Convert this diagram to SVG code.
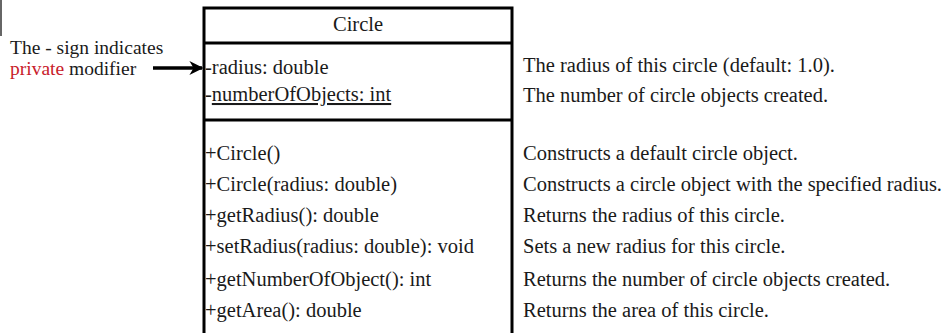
<svg xmlns="http://www.w3.org/2000/svg" width="948" height="333" viewBox="0 0 948 333">
<defs>
<style>
text{font-family:"Liberation Serif","Times New Roman",serif;font-size:20.5px;fill:#1a1a1a}
.note{font-size:19.5px}
.box{fill:#fff;stroke:#000;stroke-width:3}
.div{stroke:#000;stroke-width:3}
.red{fill:#c8202a}
</style>
<marker id="ah" viewBox="0 0 10 10" refX="9" refY="5" markerWidth="4" markerHeight="4" orient="auto" markerUnits="strokeWidth">
<path d="M0,0 L10,5 L0,10 L3,5 Z" fill="#000"/>
</marker>
</defs>
<rect width="948" height="333" fill="#fff"/>
<line x1="1" y1="0" x2="1" y2="36" stroke="#333" stroke-width="1.5"/>
<g id="note">
<text class="note" x="10" y="54">The - sign indicates</text>
<text class="note" x="10" y="75"><tspan class="red">private</tspan> modifier</text>
</g>
<g id="circle-class">
<path class="box" d="M204,340 V8 H512 V340"/>
<line class="div" x1="204" y1="43" x2="512" y2="43"/>
<line class="div" x1="204" y1="120" x2="512" y2="120"/>
<text x="358" y="31" text-anchor="middle">Circle</text>
<text x="205" y="74">-radius: double</text>
<text x="205" y="101">-<tspan text-decoration="underline">numberOfObjects: int</tspan></text>
<text x="205" y="160">+Circle()</text>
<text x="205" y="191">+Circle(radius: double)</text>
<text x="205" y="222">+getRadius(): double</text>
<text x="205" y="253">+setRadius(radius: double): void</text>
<text x="205" y="286">+getNumberOfObject(): int</text>
<text x="205" y="317">+getArea(): double</text>
</g>
<g id="descriptions">
<text x="523" y="72">The radius of this circle (default: 1.0).</text>
<text x="523" y="102">The number of circle objects created.</text>
<text x="523" y="160">Constructs a default circle object.</text>
<text x="523" y="191">Constructs a circle object with the specified radius.</text>
<text x="523" y="222">Returns the radius of this circle.</text>
<text x="523" y="253">Sets a new radius for this circle.</text>
<text x="523" y="286">Returns the number of circle objects created.</text>
<text x="523" y="317">Returns the area of this circle.</text>
</g>
<g id="connectors">
<line x1="153" y1="68" x2="202" y2="68" stroke="#000" stroke-width="3.5" marker-end="url(#ah)"/>
</g>
</svg>
